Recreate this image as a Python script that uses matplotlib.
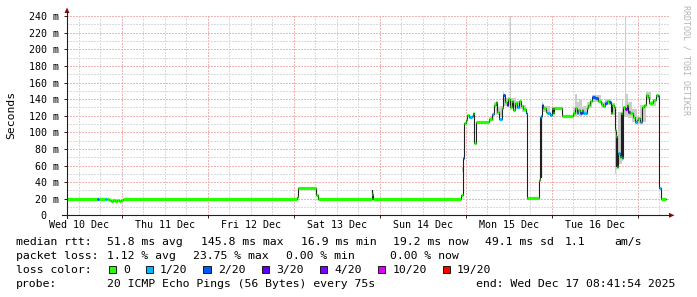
import numpy as np
import matplotlib
matplotlib.use("Agg")
import matplotlib.pyplot as plt
from matplotlib.ticker import MultipleLocator
from matplotlib.patches import Rectangle, Polygon
from matplotlib.lines import Line2D

W, H = 697, 297
MONO = "DejaVu Sans Mono"

# time axis: hours since Wed 10 Dec 2025 00:00
t_start, t_end = 8.698, 176.698
day_ticks = [24, 48, 72, 96, 120, 144, 168]
label_pos = [12, 36, 60, 84, 108, 132, 156]
day_labels = ["Wed 10 Dec", "Thu 11 Dec", "Fri 12 Dec", "Sat 13 Dec",
              "Sun 14 Dec", "Mon 15 Dec", "Tue 16 Dec"]
y_ticks = [0, 20, 40, 60, 80, 100, 120, 140, 160, 180, 200, 220, 240]
y_labels = ["0  ", "20 m", "40 m", "60 m", "80 m", "100 m", "120 m", "140 m",
            "160 m", "180 m", "200 m", "220 m", "240 m"]

# median rtt (ms) and loss (x/20) per sample, step-post
t_med = [8.70, 17.15, 17.63, 19.30, 19.86, 20.42, 20.98, 21.53, 22.09, 22.65,
         23.21, 23.77, 24.33, 72.75, 73.16, 78.19, 78.61, 93.68, 93.95, 94.23,
         118.57, 119.13, 119.29, 119.49, 120.05, 120.41, 120.97, 121.64, 121.92,
         122.28, 122.84, 126.55, 127.22, 127.86, 128.42, 128.78, 129.34, 130.01,
         130.46, 130.93, 131.41, 131.85, 132.33, 132.80, 133.25, 133.72, 134.20,
         134.84, 135.40, 136.04, 136.79, 137.16, 140.50, 140.70, 140.89, 141.06,
         141.17, 141.62, 142.37, 142.74, 143.49, 143.97, 144.25, 144.61, 146.76,
         149.99, 150.47, 150.94, 151.39, 151.86, 152.34, 152.78, 153.26, 153.73,
         154.18, 154.65, 155.13, 156.05, 156.97, 157.64, 158.20, 158.84, 159.48,
         160.04, 160.43, 160.88, 161.35, 161.63, 161.83, 162.00, 162.19, 162.55,
         163.03, 163.22, 163.50, 163.78, 164.42, 164.90, 165.34, 165.82, 166.29,
         166.74, 167.21, 167.69, 168.13, 168.61, 169.08, 169.73, 170.28, 170.76,
         171.20, 171.68, 172.32, 173.07, 173.71, 173.99, 174.47, 175.86]
med = [19.6, 19.6, 19.6, 19.6, 19.6, 18.0, 17.2, 18.4, 17.0, 18.6,
       17.8, 19.0, 19.6, 22.5, 33.2, 24.0, 19.6, 30.0, 26.0, 19.6,
       24.4, 54.6, 68.6, 110.8, 114.8, 120.8, 119.0, 120.0, 122.8,
       86.7, 112.8, 115.6, 121.6, 132.9, 137.0, 124.8, 115.6, 128.9,
       144.9, 137.0, 133.0, 139.7, 130.9, 138.0, 126.9, 134.9, 130.9,
       138.0, 131.7, 127.7, 123.6, 20.4, 42.5, 118.8, 46.0, 120.0,
       133.0, 128.9, 124.8, 122.8, 120.8, 128.9, 122.8, 128.9, 119.6,
       122.8, 128.9, 122.8, 126.9, 122.8, 126.9, 123.6, 122.8, 128.9,
       133.0, 138.0, 142.1, 140.9, 138.0, 134.0, 131.7, 135.7, 138.0,
       137.0, 122.8, 133.0, 130.9, 102.8, 60.0, 95.0, 58.6, 74.6,
       70.6, 122.8, 68.6, 130.9, 127.7, 133.0, 124.8, 122.8, 122.8,
       118.8, 112.8, 115.0, 116.8, 112.8, 130.9, 133.0, 144.9, 142.9,
       134.9, 134.9, 138.9, 144.9, 143.7, 32.5, 19.6, np.nan]
loss = [0, 2, 0, 1, 0, 0, 0, 0, 0, 0,
        0, 0, 0, 0, 0, 0, 0, 1, 0, 0,
        0, 0, 2, 0, 0, 0, 1, 1, 0,
        0, 0, 0, 1, 0, 0, 0, 1, 0,
        2, 0, 3, 0, 0, 0, 0, 0, 1,
        0, 0, 0, 1, 0, 0, 1, 0, 2,
        2, 0, 0, 1, 1, 0, 0, 0, 0,
        0, 0, 1, 0, 2, 0, 1, 1, 0,
        0, 0, 2, 2, 0, 0, 0, 2, 0,
        2, 0, 0, 0, 0, 0, 0, 0, 1,
        0, 0, 1, 0, 4, 0, 4, 0, 0,
        0, 1, 0, 0, 1, 0, 0, 0, 0,
        0, 0, 0, 0, 2, 1, 0, 0]

# smoke (spread of the 20 pings)
t_smoke = [93.68, 93.95, 94.23, 118.96, 119.49, 119.80, 126.47, 127.86, 128.40,
           129.53, 130.37, 130.70, 131.77, 132.33, 132.61, 134.09, 135.77,
           136.79, 137.16, 141.17, 141.60, 143.49, 144.0, 149.99, 150.47,
           150.90, 151.60, 152.34, 152.80, 153.73, 155.13, 157.64, 158.84,
           160.43, 161.63, 161.90, 162.55, 163.50, 163.90, 164.42, 164.70,
           165.20, 166.29, 167.69, 168.61, 170.28, 171.68, 173.07, 173.71]
smoke_lo = [19, 19, np.nan, 52, 107, np.nan, 114, 129, 121, 118, 138, 132, 134, 127,
            131, 128, 125, 120, np.nan, 120, 124, 119, np.nan, 120, 119, 121, 120,
            121, 125, 129, 137, 129, 133, 121, 50, 56, 62, 66, 119, 120, 118,
            117, 112, 110, 112, 139, 132, 141, np.nan]
smoke_hi = [33, 27, np.nan, 58, 115, np.nan, 118, 136, 131, 132, 148, 141, 143, 243,
            141, 138, 133, 127, np.nan, 136, 132, 126, np.nan, 131, 146, 136, 140,
            131, 132, 137, 145, 137, 140, 135, 106, 96, 125, 140, 131, 243, 146,
            136, 128, 119, 133, 148, 138, 147, np.nan]

loss_steps = [0, 1, 2, 3, 4, 10, 19]
loss_names = ["0", "1/20", "2/20", "3/20", "4/20", "10/20", "19/20"]
loss_colors = ["#26ff00", "#00b8ff", "#0059ff", "#5e00ff", "#7e00ff", "#dd00ff", "#ff0000"]

fig = plt.figure(figsize=(W / 100, H / 100), dpi=100)
fig.patch.set_facecolor("white")
ax = fig.add_axes([67 / W, (H - 215.3) / H, 602 / W, 199.2 / H])
ax.set_xlim(t_start, t_end)
ax.set_ylim(0, 240)
for sp in ax.spines.values():
    sp.set_visible(False)

# grid
ax.xaxis.set_major_locator(MultipleLocator(24))
ax.xaxis.set_minor_locator(MultipleLocator(6))
ax.yaxis.set_major_locator(MultipleLocator(20))
ax.yaxis.set_minor_locator(MultipleLocator(10))
ax.grid(which="minor", color="#dadada", lw=0.72, ls=(0, (1.4, 1.4)), antialiased=False)
ax.grid(which="major", color="#f0b4b4", lw=0.72, ls=(0, (1.4, 1.4)), antialiased=False)
ax.set_axisbelow(True)
ax.set_yticks(y_ticks, y_labels, family=MONO, fontsize=7.2)
ax.set_xticks(day_ticks, [""] * len(day_ticks))
ax.tick_params(which="major", length=2.5, width=0.7, color="#202020", pad=3)
ax.tick_params(which="minor", length=0)
for p, lab in zip(label_pos, day_labels):
    ax.text(p, -0.024, lab, transform=ax.get_xaxis_transform(), ha="center", va="top",
            family=MONO, fontsize=7.2)

# smoke
ax.fill_between(t_smoke, smoke_lo, smoke_hi, step="post", color="#cccccc", lw=0, zorder=2)

# median: dark step line, colored by loss on top
ax.step(t_med, med, where="post", color="#202020", lw=0.8, zorder=3)
seg_col = [loss_colors[loss_steps.index(l)] for l in loss]
ax.hlines(med[:-1], t_med[:-1], t_med[1:], colors=seg_col[:len(med) - 1],
          lw=2.3, capstyle="butt", zorder=4)

# axes with arrows (pixel coordinates)
def fx(x): return x / W
def fy(y): return 1 - y / H
fig.add_artist(Line2D([fx(62), fx(670)], [fy(215.3), fy(215.3)], color="#202020", lw=0.8))
fig.add_artist(Line2D([fx(67), fx(67)], [fy(218), fy(12)], color="#202020", lw=0.8))
fig.add_artist(Polygon([[fx(669), fy(212.8)], [fx(674.5), fy(215.3)], [fx(669), fy(217.8)]],
                       closed=True, color="#801010", lw=0))
fig.add_artist(Polygon([[fx(64.5), fy(13)], [fx(67), fy(7.5)], [fx(69.5), fy(13)]],
                       closed=True, color="#801010", lw=0))

fig.text(fx(11), fy(115), "Seconds", rotation=90, ha="center", va="center",
         family=MONO, fontsize=8.2)
fig.text(fx(686), fy(60), "RRDTOOL / TOBI OETIKER", rotation=270, ha="center",
         va="center", family=MONO, fontsize=6, color="#b4b4b4")

# legend block
rows = [
    (245.3, [("median rtt:", 16), ("51.8 ms avg", 107.3), ("145.8 ms max", 200.7),
             ("16.9 ms min", 300.7), ("19.2 ms now", 393), ("49.1 ms sd", 485.3),
             ("1.1", 564.3), ("am/s", 614.3)]),
    (259.2, [("packet loss:", 16), ("1.12 % avg", 107.3), ("23.75 % max", 193.3),
             ("0.00 % min", 286), ("0.00 % now", 390.3)]),
    (273.1, [("loss color:", 16)]),
    (287.0, [("probe:", 16), ("20 ICMP Echo Pings (56 Bytes) every 75s", 107.3),
             ("end: Wed Dec 17 08:41:54 2025", 476.3)]),
]
for yb, items in rows:
    for s, x in items:
        fig.text(fx(x), fy(yb), s, ha="left", va="baseline", family=MONO, fontsize=8.25)

box_x = [108.7, 145.7, 203.3, 261.7, 320, 377.7, 443]
lab_x = [123.3, 160, 218.3, 276, 334, 392.7, 457]
for bx, lx, c, n in zip(box_x, lab_x, loss_colors, loss_names):
    fig.add_artist(Rectangle((fx(bx), fy(273.3)), 7.4 / W, 7.6 / H, facecolor=c,
                             edgecolor="black", lw=0.6))
    fig.text(fx(lx), fy(273.1), n, ha="left", va="baseline", family=MONO, fontsize=8.25)

fig.savefig("out.png", dpi=100)
